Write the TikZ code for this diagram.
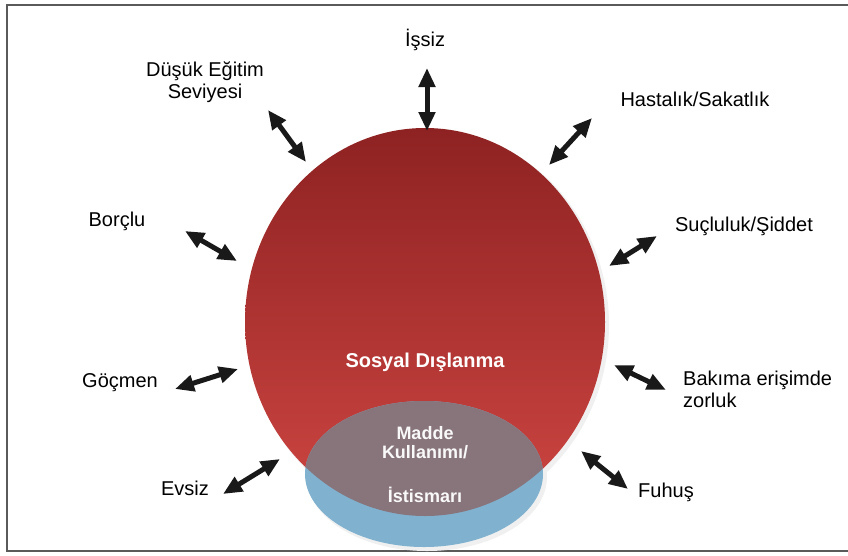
\documentclass[tikz,border=0pt]{standalone}
\usepackage{fontspec}
\setmainfont{Liberation Sans}
\usetikzlibrary{arrows.meta}
\definecolor{dislTop}{RGB}{142,34,34}
\definecolor{dislBot}{RGB}{206,70,66}
\definecolor{maddeBlue}{RGB}{128,178,208}
\definecolor{maddeGray}{RGB}{136,117,124}
\definecolor{frameGray}{RGB}{90,90,90}

\begin{document}
\begin{tikzpicture}[
		x=1pt, y=-1pt,
		lbl/.style={font=\fontsize{20}{22}\selectfont, text=black, inner sep=0pt},
		inlbl/.style={font=\fontsize{20}{22}\selectfont\bfseries, text=white, inner sep=0pt},
		smlbl/.style={font=\fontsize{18}{19}\selectfont\bfseries, text=white!95!gray, inner sep=0pt, align=center},
		darr/.style={{Triangle[length=19pt,width=16pt]}-{Triangle[length=19pt,width=16pt]}, line width=5pt, black!90}
		]
		\useasboundingbox (0,0) rectangle (848,555);
		% frame
		\draw[frameGray, line width=1.5pt] (848,5) -- (7,5) -- (7,551) -- (848,551);

		% shadows
		\fill[black!6] (428,325) ellipse [x radius=181, y radius=195];
		\fill[black!6] (427,477) ellipse [x radius=120, y radius=74];

		% circles
		\path[top color=dislTop, bottom color=dislBot] (425,322) ellipse [x radius=180, y radius=194];
		\fill[maddeBlue] (424,474) ellipse [x radius=119, y radius=73];
		\begin{scope}
			\clip (425,322) ellipse [x radius=180, y radius=194];
			\fill[maddeGray] (424,474) ellipse [x radius=119, y radius=73];
		\end{scope}

		\node[inlbl] (sosyal) at (425,362) {Sosyal Dışlanma};
		\node[smlbl] (madde) at (425,443) {Madde\\Kullanımı/};
		\node[smlbl] (istismar) at (425,495) {İstismarı};

		% labels
		\node[lbl] (issiz) at (425,40) {İşsiz};
		\node[lbl, align=center] (egitim) at (205,82) {Düşük Eğitim\\Seviyesi};
		\node[lbl] (hastalik) at (695,99) {Hastalık/Sakatlık};
		\node[lbl] (borclu) at (117,221) {Borçlu};
		\node[lbl] (suc) at (744,226) {Suçluluk/Şiddet};
		\node[lbl] (gocmen) at (120,383) {Göçmen};
		\node[lbl, align=left, anchor=west] (bakim) at (683,389) {Bakıma erişimde\\zorluk};
		\node[lbl] (evsiz) at (185,488) {Evsiz};
		\node[lbl] (fuhus) at (666,492) {Fuhuş};

		% arrow ends
		\coordinate (issizA) at (427,68);
		\coordinate (issizB) at (427,131);
		\coordinate (egitimA) at (268,110);
		\coordinate (egitimB) at (306,162);
		\coordinate (hastalikA) at (592,118);
		\coordinate (hastalikB) at (549,165);
		\coordinate (borcluA) at (185,231);
		\coordinate (borcluB) at (237,261);
		\coordinate (sucA) at (657,236);
		\coordinate (sucB) at (609,266);
		\coordinate (gocmenA) at (175,389);
		\coordinate (gocmenB) at (238,369);
		\coordinate (bakimA) at (614,365);
		\coordinate (bakimB) at (666,390);
		\coordinate (evsizA) at (223,494);
		\coordinate (evsizB) at (280,459);
		\coordinate (fuhusA) at (581,451);
		\coordinate (fuhusB) at (628,489);

		\draw[darr] (issizA) -- (issizB);
		\draw[darr] (egitimA) -- (egitimB);
		\draw[darr] (hastalikA) -- (hastalikB);
		\draw[darr] (borcluA) -- (borcluB);
		\draw[darr] (sucA) -- (sucB);
		\draw[darr] (gocmenA) -- (gocmenB);
		\draw[darr] (bakimA) -- (bakimB);
		\draw[darr] (evsizA) -- (evsizB);
		\draw[darr] (fuhusA) -- (fuhusB);
	\end{tikzpicture}
\end{document}
